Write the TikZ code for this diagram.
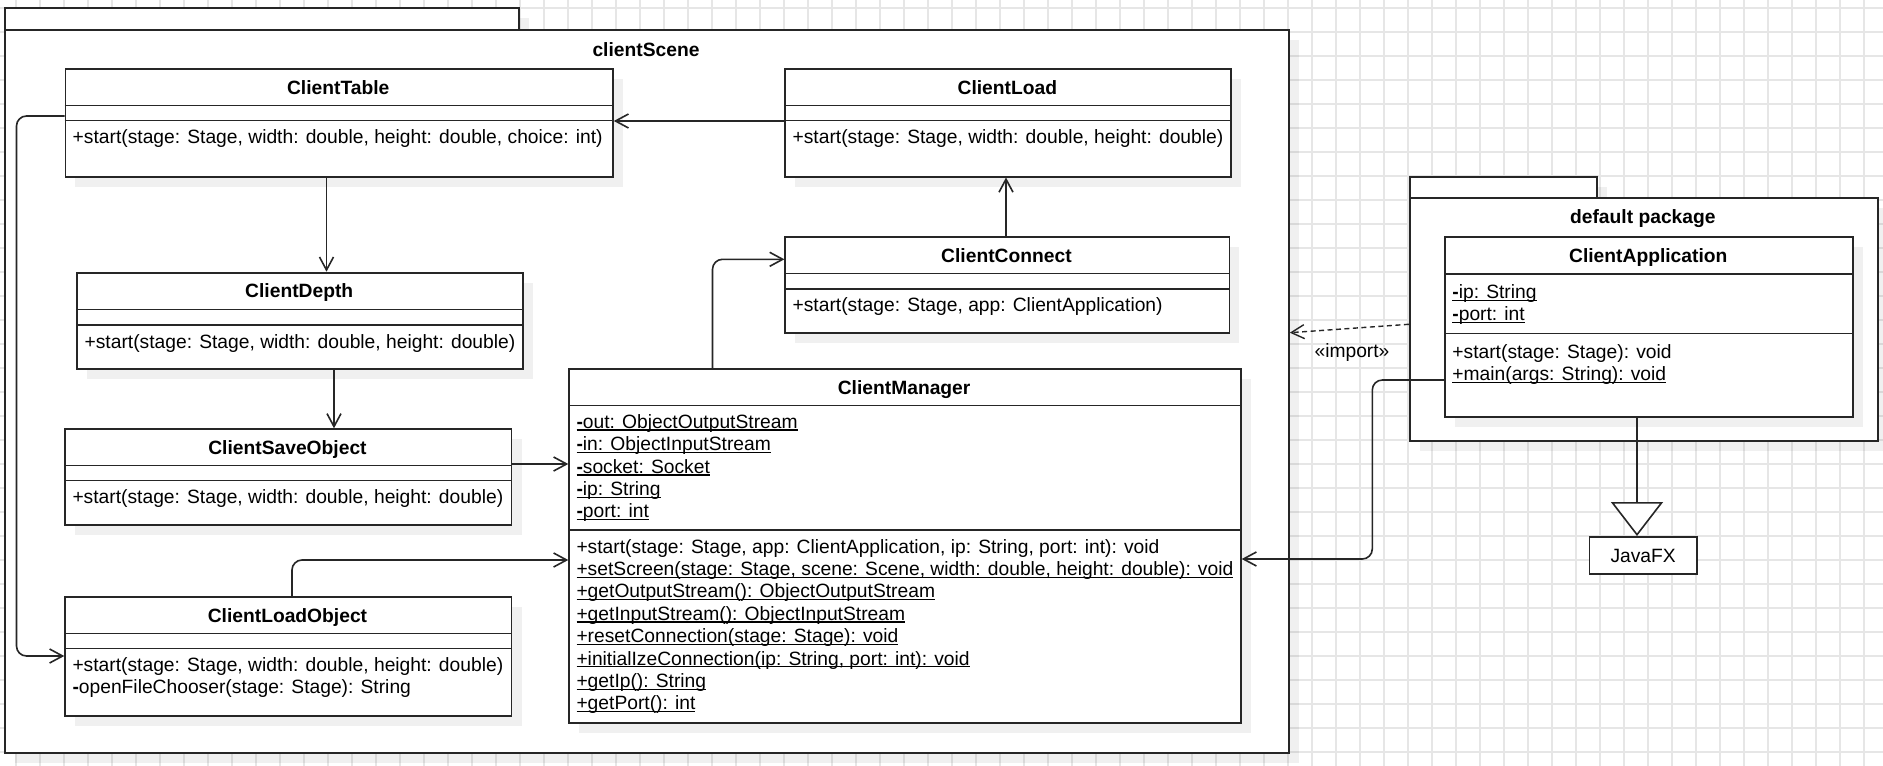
\documentclass[tikz,border=0pt]{standalone}
\usepackage{fontspec}
\setmainfont{Liberation Sans}
\usetikzlibrary{arrows.meta,shadows}

\definecolor{ink}{RGB}{38,38,38}
\definecolor{gridgray}{RGB}{230,230,230}

\newcommand\umlfont{\fontsize{19.25pt}{22.4pt}\selectfont}
% static members: underline at a fixed depth below the baseline
\newcommand\umem[1]{\setbox0\hbox{#1}\rlap{\rule[-2.4pt]{\wd0}{1.3pt}}\box0}
\newcommand\priv{\textbf{-}}

\begin{document}
\begin{tikzpicture}[x=1pt,y=-1pt,
  box/.style={draw=ink, line width=1.8pt, fill=white, inner sep=0pt, anchor=north west},
  shadowed/.style={drop shadow={shadow xshift=10pt, shadow yshift=-10pt, fill=black, opacity=0.06}},
  classbox/.style={box, shadowed},
  sepline/.style={draw=ink, line width=1.6pt},
  title/.style={font=\umlfont\bfseries, anchor=base, inner sep=0pt},
  member/.style={font=\umlfont, anchor=base west, inner sep=0pt},
  gridline/.style={draw=gridgray, line width=1.2pt},
  assoc/.style={draw=ink, line width=1.6pt, rounded corners=10pt, -{Straight Barb[length=13pt,width=14pt]}},
  dep/.style={draw=ink, line width=1.4pt, dash pattern=on 5pt off 3.5pt, -{Straight Barb[length=13pt,width=14pt]}},
  gen/.style={draw=ink, line width=1.6pt, -{Triangle[length=34pt,width=52pt,fill=white]}}
]
\useasboundingbox (0,0) rectangle (1883,766);

% canvas and grid
\fill[white] (0,0) rectangle (1883,766);
\foreach \gx in {16,40,...,1883} \draw[gridline] (\gx,0) -- (\gx,766);
\foreach \gy in {8,32,...,766} \draw[gridline] (0,\gy) -- (1883,\gy);

% package clientScene
\node[box, shadowed, minimum width=514pt, minimum height=21.7pt] (cst) at (4,7.3) {};
\node[box, shadowed, minimum width=1284pt, minimum height=723pt] (csf) at (4,29) {};
\node[title] (csf-t) at (646,56) {clientScene};

% package default package
\node[box, shadowed, minimum width=187pt, minimum height=21pt] (dpt) at (1408.8,175.7) {};
\node[box, shadowed, minimum width=468.1pt, minimum height=243.3pt] (dpf) at (1408.8,196.7) {};
\node[title] (dpf-t) at (1642.85,223.7) {default package};

% ClientTable
\node[classbox, minimum width=547.5pt, minimum height=108pt] (ct) at (64.5,67.7) {};
\draw[sepline] (ct.west |- 0,105.3) -- (ct.east |- 0,105.3);
\draw[sepline] (ct.west |- 0,120.3) -- (ct.east |- 0,120.3);
\node[title] (ct-h) at (338.25,94) {ClientTable};
\node[member] (ct-m1) at (72.5,143.3) {+start(stage: Stage, width: double, height: double, choice: int)};

% ClientLoad
\node[classbox, minimum width=445.9pt, minimum height=108pt] (cl) at (784.4,67.7) {};
\draw[sepline] (cl.west |- 0,105.3) -- (cl.east |- 0,105.3);
\draw[sepline] (cl.west |- 0,120.3) -- (cl.east |- 0,120.3);
\node[title] (cl-h) at (1007.35,94) {ClientLoad};
\node[member] (cl-m1) at (792.4,143.3) {+start(stage: Stage, width: double, height: double)};

% ClientConnect
\node[classbox, minimum width=444.1pt, minimum height=96pt] (cc) at (784.4,235.7) {};
\draw[sepline] (cc.west |- 0,273.3) -- (cc.east |- 0,273.3);
\draw[sepline] (cc.west |- 0,288.7) -- (cc.east |- 0,288.7);
\node[title] (cc-h) at (1006.45,262) {ClientConnect};
\node[member] (cc-m1) at (792.4,311.7) {+start(stage: Stage, app: ClientApplication)};

% ClientDepth
\node[classbox, minimum width=445.6pt, minimum height=96.6pt] (cd) at (76.4,271.7) {};
\draw[sepline] (cd.west |- 0,309.3) -- (cd.east |- 0,309.3);
\draw[sepline] (cd.west |- 0,325) -- (cd.east |- 0,325);
\node[title] (cd-h) at (299.2,297.7) {ClientDepth};
\node[member] (cd-m1) at (84.4,348) {+start(stage: Stage, width: double, height: double)};

% ClientSaveObject
\node[classbox, minimum width=446.3pt, minimum height=95.7pt] (cso) at (64.3,428.3) {};
\draw[sepline] (cso.west |- 0,465.3) -- (cso.east |- 0,465.3);
\draw[sepline] (cso.west |- 0,480.3) -- (cso.east |- 0,480.3);
\node[title] (cso-h) at (287.45,454.3) {ClientSaveObject};
\node[member] (cso-m1) at (72.3,503.3) {+start(stage: Stage, width: double, height: double)};

% ClientLoadObject
\node[classbox, minimum width=446.3pt, minimum height=119.3pt] (clo) at (64.3,596) {};
\draw[sepline] (clo.west |- 0,633.3) -- (clo.east |- 0,633.3);
\draw[sepline] (clo.west |- 0,648.3) -- (clo.east |- 0,648.3);
\node[title] (clo-h) at (287.45,622) {ClientLoadObject};
\node[member] (clo-m1) at (72.3,671.3) {+start(stage: Stage, width: double, height: double)};
\node[member] (clo-m2) at (72.3,693.7) {\priv openFileChooser(stage: Stage): String};

% ClientManager
\node[classbox, minimum width=671.6pt, minimum height=353.7pt] (cm) at (568.3,368) {};
\draw[sepline] (cm.west |- 0,405.3) -- (cm.east |- 0,405.3);
\draw[sepline] (cm.west |- 0,530) -- (cm.east |- 0,530);
\node[title] (cm-h) at (904.1,394) {ClientManager};
\node[member] (cm-a1) at (576.3,428.3) {\umem{\priv out: ObjectOutputStream}};
\node[member] (cm-a2) at (576.3,450.7) {\umem{\priv in: ObjectInputStream}};
\node[member] (cm-a3) at (576.3,473.1) {\umem{\priv socket: Socket}};
\node[member] (cm-a4) at (576.3,495.5) {\umem{\priv ip: String}};
\node[member] (cm-a5) at (576.3,517.9) {\umem{\priv port: int}};
\node[member] (cm-m1) at (576.3,553) {+start(stage: Stage, app: ClientApplication, ip: String, port: int): void};
\node[member] (cm-m2) at (576.3,575.4) {\umem{+setScreen(stage: Stage, scene: Scene, width: double, height: double): void}};
\node[member] (cm-m3) at (576.3,597.8) {\umem{+getOutputStream(): ObjectOutputStream}};
\node[member] (cm-m4) at (576.3,620.2) {\umem{+getInputStream(): ObjectInputStream}};
\node[member] (cm-m5) at (576.3,642.6) {\umem{+resetConnection(stage: Stage): void}};
\node[member] (cm-m6) at (576.3,665) {\umem{+initialIzeConnection(ip: String, port: int): void}};
\node[member] (cm-m7) at (576.3,687.4) {\umem{+getIp(): String}};
\node[member] (cm-m8) at (576.3,709.8) {\umem{+getPort(): int}};

% ClientApplication
\node[classbox, minimum width=408.1pt, minimum height=180pt] (ca) at (1444.2,236) {};
\draw[sepline] (ca.west |- 0,273.7) -- (ca.east |- 0,273.7);
\draw[sepline] (ca.west |- 0,333.3) -- (ca.east |- 0,333.3);
\node[title] (ca-h) at (1648.25,262) {ClientApplication};
\node[member] (ca-a1) at (1452.2,298.5) {\umem{\priv ip: String}};
\node[member] (ca-a2) at (1452.2,320.9) {\umem{\priv port: int}};
\node[member] (ca-m1) at (1452.2,358.5) {+start(stage: Stage): void};
\node[member] (ca-m2) at (1452.2,380.9) {\umem{+main(args: String): void}};

% JavaFX
\node[box, font=\umlfont, minimum width=107.5pt, minimum height=37.3pt, anchor=north west] (jfx) at (1588.5,536) {JavaFX};

% connectors
\draw[assoc] (cl.west |- 0,121) -- (ct.east |- 0,121);
\draw[assoc] (cc.north -| 1006,0) -- (cl.south -| 1006,0);
\draw[assoc] (ct.south -| 326.5,0) -- (cd.north -| 326.5,0);
\draw[assoc] (cd.south -| 334,0) -- (cso.north -| 334,0);
\draw[assoc] (cso.east |- 0,464) -- (cm.west |- 0,464);
\draw[assoc] (clo.north -| 292,0) |- (cm.west |- 0,560);
\draw[assoc] (cm.north -| 712.5,0) |- (cc.west |- 0,259.3);
\draw[assoc] (ct.west |- 0,116) -- ++(-48,0) |- (clo.west |- 0,656);
\draw[assoc] (ca.west |- 0,380) -- ++(-71.9,0) |- (cm.east |- 0,559);
\draw[dep] (dpf.west |- 0,324.3) -- (csf.east |- 0,332.7);
\node[font=\umlfont, anchor=base, inner sep=0pt] (imp) at (1352,357) {«import»};
\draw[gen] (ca.south -| 1637,0) -- (jfx.north -| 1637,0);
\end{tikzpicture}
\end{document}
